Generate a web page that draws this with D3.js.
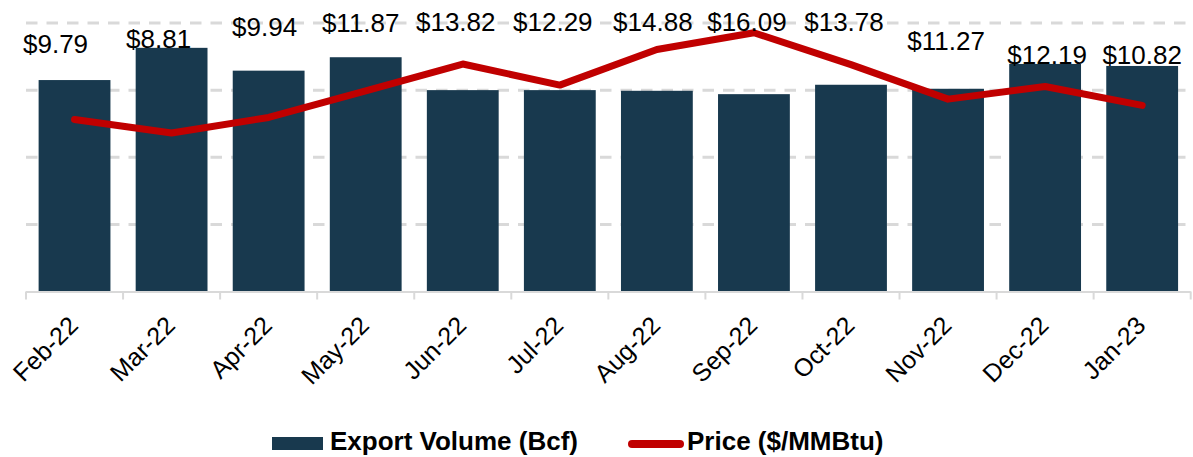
<!DOCTYPE html>
<html>
<head>
<meta charset="utf-8">
<script src="https://cdn.jsdelivr.net/npm/d3@7"></script>
<style>
  body { margin:0; background:#fff; }
  text { font-family: "Liberation Sans", Arial, sans-serif; fill:#000; }
</style>
</head>
<body>
<svg></svg>
<script>

// data
var months = ["Feb-22","Mar-22","Apr-22","May-22","Jun-22","Jul-22","Aug-22","Sep-22","Oct-22","Nov-22","Dec-22","Jan-23"];
var volume = [315, 363, 329, 349, 300, 300, 299, 294, 308, 302, 339, 336];
var price  = [9.79, 8.81, 9.94, 11.87, 13.82, 12.29, 14.88, 16.09, 13.78, 11.27, 12.19, 10.82];
var volumeTicks = [100, 200, 300, 400];

// the price labels were dragged around by hand in the original
var labelDx = [-19, -13, -4, -5, -7, -7, -4, -7, -7, -2, 2, 0];
var labelDy = [22, 17, 5, 1, 0, 0, 0, 0, 0, 19, 33, 33];

var screen = {width:1193, height:457};
var margins = {top:23, left:26, bottom:165.5, right:2.3};

var width = screen.width - margins.left - margins.right;
var height = screen.height - margins.top - margins.bottom;

var svg = d3.select("svg").attr("width", screen.width).attr("height", screen.height);
var plot = svg.append("g").attr("transform", "translate(" + margins.left + "," + margins.top + ")");

var xScale = d3.scaleBand()
  .domain(months)
  .range([0, width])
  .paddingInner(0.26)
  .paddingOuter(0.13);

var yScale = d3.scaleLinear().domain([0, 400]).range([height, 0]);
// secondary (hidden) axis for the price line
var pScale = d3.scaleLinear().domain([-2.7, 16.8]).range([height, 0]);

// dashed gridlines
plot.selectAll("line.grid")
  .data(volumeTicks)
  .enter()
  .append("line")
  .attr("class", "grid")
  .attr("x1", 0)
  .attr("x2", width)
  .attr("y1", function(d) { return yScale(d); })
  .attr("y2", function(d) { return yScale(d); })
  .attr("stroke", "#d9d9d9")
  .attr("stroke-width", 3)
  .attr("stroke-dasharray", "11.5,9");

// bars
plot.selectAll("rect.bar")
  .data(volume)
  .enter()
  .append("rect")
  .attr("class", "bar")
  .attr("x", function(d, i) { return xScale(months[i]); })
  .attr("width", xScale.bandwidth())
  .attr("y", function(d) { return yScale(d); })
  .attr("height", function(d) { return height - yScale(d); })
  .attr("fill", "#18394e");

// x axis : line plus ticks on the band edges
var xAxis = plot.append("g").attr("transform", "translate(0," + height + ")");
xAxis.append("line")
  .attr("x1", 0).attr("x2", width)
  .attr("y1", 0.5).attr("y2", 0.5)
  .attr("stroke", "#d9d9d9").attr("stroke-width", 2);

var edges = d3.range(months.length + 1).map(function(i) { return i * xScale.step(); });
xAxis.selectAll("line.tick")
  .data(edges)
  .enter()
  .append("line")
  .attr("class", "tick")
  .attr("x1", function(d) { return d; })
  .attr("x2", function(d) { return d; })
  .attr("y1", 0).attr("y2", 8)
  .attr("stroke", "#d9d9d9").attr("stroke-width", 2);

xAxis.selectAll("text")
  .data(months)
  .enter()
  .append("text")
  .attr("transform", function(d) {
    return "translate(" + (xScale(d) + xScale.bandwidth() / 2 + 5) + ",35.5) rotate(-45)";
  })
  .attr("text-anchor", "end")
  .style("font-size", "25px")
  .text(function(d) { return d; });

// price line
var line = d3.line()
  .x(function(d, i) { return xScale(months[i]) + xScale.bandwidth() / 2; })
  .y(function(d) { return pScale(d); });

plot.append("path")
  .datum(price)
  .attr("d", line)
  .attr("fill", "none")
  .attr("stroke", "#c00000")
  .attr("stroke-width", 7)
  .attr("stroke-linecap", "round")
  .attr("stroke-linejoin", "round");

// price labels
plot.selectAll("text.lbl")
  .data(price)
  .enter()
  .append("text")
  .attr("class", "lbl")
  .attr("x", function(d, i) { return xScale(months[i]) + xScale.bandwidth() / 2 + labelDx[i]; })
  .attr("y", function(d, i) { return 8 + labelDy[i]; })
  .attr("text-anchor", "middle")
  .style("font-size", "26px")
  .text(function(d) { return "$" + d3.format(".2f")(d); });

// legend
var legend = svg.append("g").attr("transform", "translate(0,450)");
legend.append("rect")
  .attr("x", 272).attr("y", -13)
  .attr("width", 51).attr("height", 13)
  .attr("fill", "#18394e");
legend.append("text")
  .attr("x", 330).attr("y", 0)
  .style("font-size", "26px").style("font-weight", "bold")
  .text("Export Volume (Bcf)");
legend.append("line")
  .attr("x1", 632).attr("x2", 680)
  .attr("y1", -6).attr("y2", -6)
  .attr("stroke", "#c00000").attr("stroke-width", 8)
  .attr("stroke-linecap", "round");
legend.append("text")
  .attr("x", 687).attr("y", 0)
  .style("font-size", "26px").style("font-weight", "bold")
  .text("Price ($/MMBtu)");

</script>
</body>
</html>
